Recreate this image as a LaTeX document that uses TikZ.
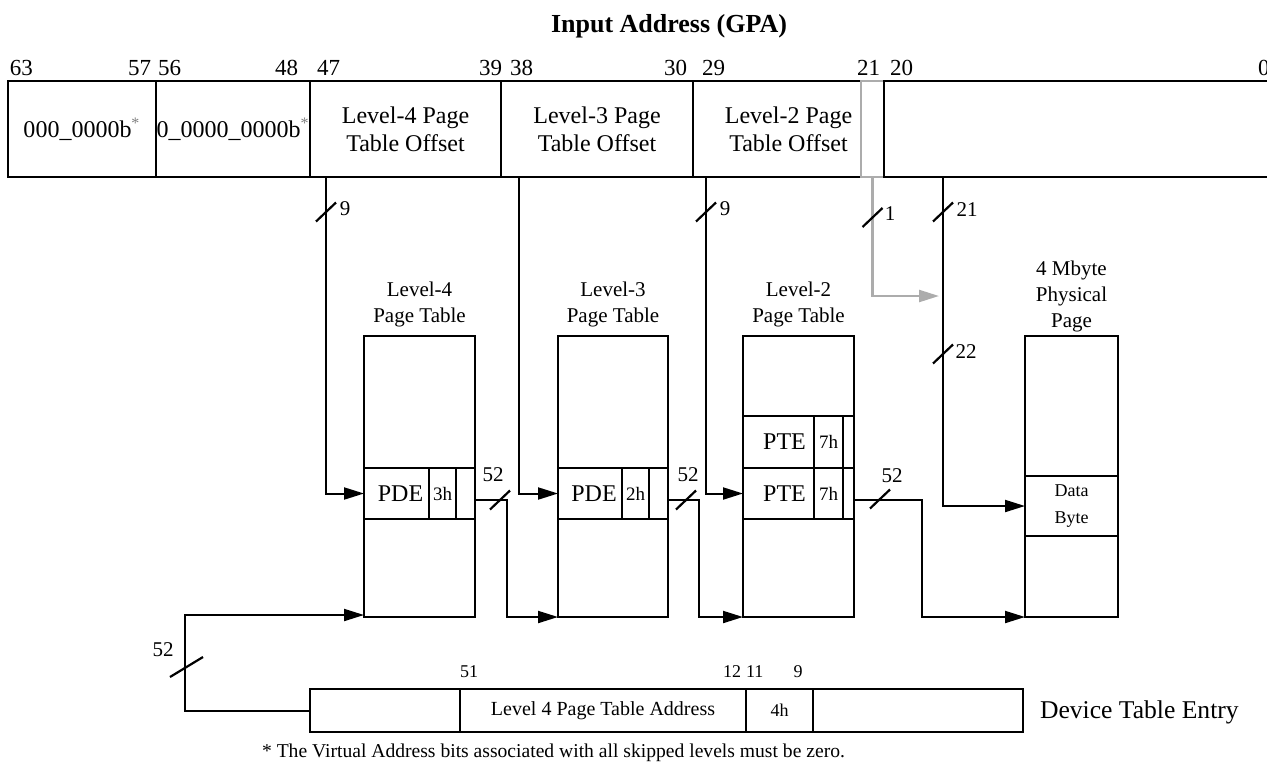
\documentclass[tikz,border=0pt]{standalone}
\usepackage{fontspec}
\setmainfont{Liberation Serif}
\usetikzlibrary{arrows.meta,calc}
\begin{document}
\begin{tikzpicture}[x=0.5pt,y=-0.5pt,line width=1pt,
  every node/.style={inner sep=0pt,outer sep=0pt},
  sz/.style 2 args={minimum width=#1*0.5pt,minimum height=#2*0.5pt},
  cell/.style={draw,rectangle},
  tit/.style={font=\fontsize{13}{15}\selectfont\bfseries},
  fA/.style={font=\fontsize{11.5}{14}\selectfont},
  fF/.style={font=\fontsize{12}{14}\selectfont},
  fP/.style={font=\fontsize{12}{14}\selectfont},
  fL/.style={font=\fontsize{10.5}{13}\selectfont},
  fS/.style={font=\fontsize{9.5}{12}\selectfont},
  fT/.style={font=\fontsize{9}{13.5}\selectfont},
  fD/.style={font=\fontsize{10}{12}\selectfont},
  fE/.style={font=\fontsize{12.8}{15}\selectfont},
  fN/.style={font=\fontsize{9.8}{12}\selectfont},
  arr/.style={-{Triangle[length=10pt,width=6pt]}},
  garr/.style={draw=gray!65,line width=1.2pt,-{Triangle[length=10pt,width=6pt,fill=gray!65]}},
  bus/.pic={\draw[line width=1.1pt] (-10,9.5) -- (10,-9.5);},
  busw/.pic={\draw[line width=1.1pt] (-16.5,10) -- (16.5,-10);}
]
\useasboundingbox (0,0) rectangle (1267,761);

% title
\node[tit,anchor=base] (title) at (669,32) {Input Address (GPA)};

% bit numbers
\node[fA,anchor=base west] (n63) at (10,75) {63};
\node[fA,anchor=base east] (n57) at (151,75) {57};
\node[fA,anchor=base west] (n56) at (158,75) {56};
\node[fA,anchor=base east] (n48) at (298,75) {48};
\node[fA,anchor=base west] (n47) at (317,75) {47};
\node[fA,anchor=base east] (n39) at (502,75) {39};
\node[fA,anchor=base west] (n38) at (510,75) {38};
\node[fA,anchor=base east] (n30) at (687,75) {30};
\node[fA,anchor=base west] (n29) at (702,75) {29};
\node[fA,anchor=base east] (n21) at (880,75) {21};
\node[fA,anchor=base west] (n20) at (890,75) {20};
\node[fA,anchor=base west] (n0) at (1258,75) {0};

% address fields
\node[cell,sz={148}{96},fF] (f63) at (82,129) {000\_0000b\textsuperscript{\color{gray}*}};
\node[cell,sz={154}{96},fF] (f56) at (233,129) {0\_0000\_0000b\textsuperscript{\color{gray}*}};
\node[cell,sz={191}{96},fF,align=center] (f47) at (405.5,129) {Level-4 Page\\Table Offset};
\node[cell,sz={192}{96},fF,align=center] (f38) at (597,129) {Level-3 Page\\Table Offset};
\node[cell,sz={191}{96},fF,align=center] (f29) at (788.5,129) {Level-2 Page\\Table Offset};
\node[draw=gray!65,fill=white,line width=1.2pt,sz={23}{96}] (f21) at (872.5,129) {};
\node[cell,sz={391}{96}] (f20) at (1079.5,129) {};

% table labels
\node[fL,anchor=base] (l4a) at (419.5,296) {Level-4};
\node[fL,anchor=base] (l4b) at (419.5,322) {Page Table};
\node[fL,anchor=base] (l3a) at (613,296) {Level-3};
\node[fL,anchor=base] (l3b) at (613,322) {Page Table};
\node[fL,anchor=base] (l2a) at (798.5,296) {Level-2};
\node[fL,anchor=base] (l2b) at (798.5,322) {Page Table};
\node[fL,anchor=base] (ppa) at (1071.5,275) {4 Mbyte};
\node[fL,anchor=base] (ppb) at (1071.5,301) {Physical};
\node[fL,anchor=base] (ppc) at (1071.5,327) {Page};

% level-4 table
\node[cell,sz={111}{281}] (t4) at (419.5,476.5) {};
\node[cell,sz={65}{51},fP] (p4) at (396.5,493.5) {\hspace*{4pt}PDE};
\node[cell,sz={27}{51},fS] (h4) at (442.5,493.5) {3h};
\node[cell,sz={19}{51}] (e4) at (465.5,493.5) {};

% level-3 table
\node[cell,sz={110}{281}] (t3) at (613,476.5) {};
\node[cell,sz={64}{51},fP] (p3) at (590,493.5) {\hspace*{4pt}PDE};
\node[cell,sz={27}{51},fS] (h3) at (635.5,493.5) {2h};
\node[cell,sz={19}{51}] (e3) at (658.5,493.5) {};

% level-2 table
\node[cell,sz={111}{281}] (t2) at (798.5,476.5) {};
\node[cell,sz={71}{52},fP] (q2) at (778.5,442) {\hspace*{6pt}PTE};
\node[cell,sz={29}{52},fS] (qh2) at (828.5,442) {7h};
\node[cell,sz={11}{52}] (qe2) at (848.5,442) {};
\node[cell,sz={71}{51},fP] (p2) at (778.5,493.5) {\hspace*{6pt}PTE};
\node[cell,sz={29}{51},fS] (h2) at (828.5,493.5) {7h};
\node[cell,sz={11}{51}] (e2) at (848.5,493.5) {};

% physical page
\node[cell,sz={93}{281}] (pp) at (1071.5,476.5) {};
\node[cell,sz={93}{60},fT,align=center] (data) at (1071.5,506) {Data\\Byte};

% device table entry
\node[cell,sz={150}{43}] (d1) at (385,710.5) {};
\node[cell,sz={286}{43},fD] (d2) at (603,710.5) {Level 4 Page Table Address};
\node[cell,sz={67}{43},fT] (d3) at (779.5,710.5) {4h};
\node[cell,sz={210}{43}] (d4) at (918,710.5) {};
\node[fT,anchor=base west] (m51) at (460,677) {51};
\node[fT,anchor=base east] (m12) at (741,677) {12};
\node[fT,anchor=base west] (m11) at (746,677) {11};
\node[fT,anchor=base] (m9) at (798,677) {9};
\node[fE,anchor=base west] (dte) at (1040,718) {Device Table Entry};
\node[fN,anchor=base] (foot) at (553.5,757) {* The Virtual Address bits associated with all skipped levels must be zero.};

% connectors
\coordinate (gt) at (939,296);
\draw[arr] ([xshift=8pt]f47.south west) |- (p4.west);
\draw[arr] ([xshift=9pt]f38.south west) |- (p3.west);
\draw[arr] ([xshift=6.5pt]f29.south west) |- (p2.west);
\draw[garr] (f21.south) |- (gt);
\draw[arr] ([xshift=29.5pt]f20.south west) |- (data.west);
\draw[arr] ([yshift=-3pt]e4.east) -- ++(32,0) |- (t3.south west);
\draw[arr] ([yshift=-3pt]e3.east) -- ++(31,0) |- (t2.south west);
\draw[arr] ([yshift=-3pt]e2.east) -- ++(68,0) |- (pp.south west);
\draw[arr] (d1.west) -- ++(-125,0) |- ([yshift=1pt]t4.south west);

% bus width marks
\pic at (326,212) {bus};
\pic at (706,212) {bus};
\pic at (872.5,217.5) {bus};
\pic at (943,212) {bus};
\pic at (943,354) {bus};
\pic at (500,500) {bus};
\pic at (686,500) {bus};
\pic at (880,499) {bus};
\pic at (186.5,667) {busw};
\node[fL] (w9a) at (345,209) {9};
\node[fL] (w9b) at (725,209) {9};
\node[fL] (w1) at (890,214) {1};
\node[fL] (w21) at (967,210) {21};
\node[fL] (w22) at (966,352) {22};
\node[fL] (w52a) at (493,475) {52};
\node[fL] (w52b) at (688,475) {52};
\node[fL] (w52c) at (892,476) {52};
\node[fL] (w52d) at (163,650) {52};
\end{tikzpicture}
\end{document}
